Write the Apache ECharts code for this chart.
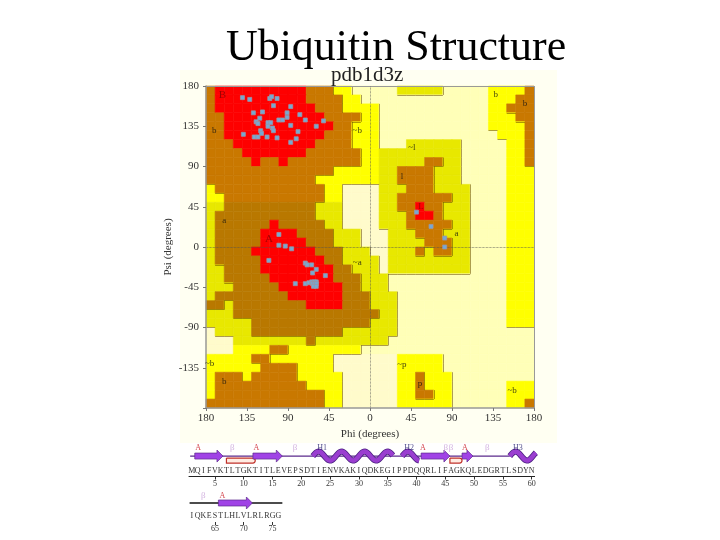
<!DOCTYPE html>
<html lang="en">
<head>
    <meta charset="utf-8">
    <title>Ubiquitin Structure</title>
    <script src="https://cdn.jsdelivr.net/npm/echarts@6/dist/echarts.min.js"></script>
    <style>
        html, body { margin: 0; padding: 0; background: #fff; }
    </style>
</head>
<body>
    <div id="main" style="width: 720px;height:540px;"></div>
<script type="text/javascript">
    // Ramachandran regions, 10 degree cells, top row is psi 170..180, run length coded
    var cellRows = [
        'b1 r10 b3 y2 p5 Y5 p5 y4 b1',
        'b1 r10 b4 y2 p14 y3 b2',
        'b1 r11 b3 y4 p12 y2 b3',
        'b2 r11 b4 y2 p12 y3 b2',
        'b2 r12 b2 y3 p12 y4 b1',
        'b2 r11 b3 y3 p13 y3 b1',
        'b3 r9 b4 y3 p3 Y6 p5 y2 b1',
        'b4 r7 b6 y2 Y9 p5 y2 b1',
        'b5 r1 b2 r1 b8 y2 Y5 b2 Y2 p5 y2 b1',
        'b14 y5 Y2 b4 Y3 p5 y3',
        'b12 y7 Y2 b4 Y3 p5 y3',
        'y1 b12 y2 q4 Y3 b3 Y4 p4 y3',
        'y2 b11 y2 q4 Y2 b6 Y2 p4 y3',
        'Y2 d10 Y3 q4 Y2 b2 r1 b2 Y3 p4 y3',
        'Y1 d11 Y3 q4 Y3 b1 r2 b1 Y3 p4 y3',
        'Y1 d6 r1 d5 Y2 q4 Y3 b5 Y2 p4 y3',
        'Y1 d5 r4 d4 Y3 q3 Y3 b3 Y3 p4 y3',
        'Y1 d5 r5 d3 Y3 q3 Y4 b3 Y2 p4 y3',
        'Y1 d4 r7 d3 Y3 q2 Y3 b1 Y1 b2 Y2 p4 y3',
        'Y1 d5 r7 d2 Y4 q1 Y9 p4 y3',
        'Y2 d4 r8 d2 Y3 q1 Y9 p4 y3',
        'Y2 d5 r7 d3 Y3 p13 y3',
        'Y3 d5 r7 d2 Y3 p13 y3',
        'Y1 d8 r6 d3 Y3 p12 y3',
        'd2 Y1 d8 r4 d3 Y3 p12 y3',
        'Y3 d16 Y2 p12 y3',
        'Y5 d13 Y3 p12 y3',
        'q1 Y4 d10 Y6 p15',
        'q3 Y8 d1 Y8 p16',
        'q3 y4 b2 y8 p19',
        'y5 b2 y7 q7 y5 p10',
        'y6 b4 y4 q7 y5 p10',
        'y1 b3 y1 b5 y5 q6 y2 b1 y3 p9',
        'y1 b10 y4 q6 y2 b1 y3 p6 y3',
        'y1 b12 y2 q6 y2 b2 y2 p6 y3',
        'b13 y2 q6 y6 p6 y2 b1'
    ];
    var cellCodes = ['r', 'b', 'd', 'y', 'Y', 'p', 'q'];
    var cellColors = ['#fe0000', '#c97800', '#b97800', '#ffff00', '#e8e800', '#ffffb8', '#fffbcb'];
    var cellRanks = [3, 2, 2, 1, 1, 0, 0];

    // residues on the plot
    var phiValues = [-140, -132, -110, -108, -102, -106, -87, -128, -118, -91, -77, -121, -91, -100, -96, -71, -51, -125, -123, -112, -109, -87, -112, -107, -106, -59, -120, -119, -139, -79, -127, -123, -113, -102, -81, -87,
        -100, -100, -93, -86, -111, -71, -69, -64, -59, -63, -49, -82, -71, -67, -64, -61, -59, -63, -61, -59, -62, -59,
        51, 67, 82, 82];
    var psiValues = [167, 165, 166, 168, 166, 158, 157, 150, 151, 150, 148, 144, 145, 142, 142, 142, 141, 140, 138, 139, 139, 136, 135, 133, 130, 135, 130, 127, 126, 129, 123, 123, 123, 122, 121, 117,
        14, 2, 1, -2, -15, -18, -20, -20, -25, -29, -32, -41, -41, -40, -39, -39, -39, -41, -41, -41, -44, -44,
        39, 23, 10, 0];

    // region letters
    var regionNames = ['B', 'b', 'a', 'A', 'b', 'b', '~b', '~l', 'l', 'L', 'a', '~a', '~b', 'b', '~p', 'p', '~b'];
    var regionPhi = [-162, -171, -160, -111, 138, 170, -14, 46, 35, 56, 95, -14, -176, -160, 35, 55, 156];
    var regionPsi = [170, 130, 29, 9, 170, 160, 130, 111, 79, 45, 15, -17, -130, -151, -132, -153, -161];

    var phiTickLabels = ['180', '135', '90', '45', '0', '45', '90', '135', '180'];
    var psiTickLabels = ['-135', '-90', '-45', '0', '45', '90', '135', '180'];

    // sequence strip
    var sequenceOne = 'MQIFVKTLTGKTITLEVEPSDTIENVKAKIQDKEGIPPDQQRLIFAGKQLEDGRTLSDYN';
    var sequenceTwo = 'IQKESTLHLVLRLRGG';

    var rowOneStart = [0.7, 7, 22, 37.5, 56.2, 1.5, 11.6, 40.8, 47.9, 45.8];
    var rowOneEnd = [56.2, 12, 36, 40.5, 60.8, 6.4, 16.7, 45.8, 49.8, 47.9];
    var rowOneType = ['coil', 'hairpin', 'helix', 'helix', 'helix', 'strand', 'strand', 'strand', 'strand', 'hairpin'];
    var rowTwoStart = [60.6, 65.6];
    var rowTwoEnd = [76.7, 71.5];
    var rowTwoType = ['coil', 'strand'];

    var rowOneNames = ['A', '\u03b2', 'A', '\u03b2', 'H1', 'H2', 'A', '\u03b2', '\u03b2', 'A', '\u03b2', 'H3'];
    var rowOneNameAt = [2.1, 8, 12.2, 18.9, 23.6, 38.7, 41.1, 45.1, 46, 48.4, 52.3, 57.6];
    var rowTwoNames = ['\u03b2', 'A'];
    var rowTwoNameAt = [63, 66.3];

    var serif = '"Liberation Serif", serif';

    function unpackRow(row) {
        var out = [];
        row.split(' ').forEach(function (run) {
            var idx = cellCodes.indexOf(run.charAt(0));
            var n = parseInt(run.slice(1), 10);
            for (var i = 0; i < n; i++) out.push(idx);
        });
        return out;
    }

    var cells = cellRows.map(unpackRow);

    function hasRim(rankA, rankB) {
        // no rim around the red core
        return rankA < 3 && rankB < rankA;
    }

    var cellData = [];
    var edgeData = [];
    for (var j = 0; j < cells.length; j++) {
        for (var i = 0; i < cells[j].length; i++) {
            var left = -180 + i * 10;
            var bottom = 170 - j * 10;
            cellData.push([left, bottom, cells[j][i]]);
            var rank = cellRanks[cells[j][i]];
            // the original has a dark rim on the right and lower side of the darker region
            if (i < 35 && hasRim(rank, cellRanks[cells[j][i + 1]])) {
                edgeData.push({ coords: [[left + 10, bottom], [left + 10, bottom + 10]] });
            }
            if (j < 35 && hasRim(rank, cellRanks[cells[j + 1][i]])) {
                edgeData.push({ coords: [[left, bottom], [left + 10, bottom]] });
            }
        }
    }

    function cellItem(params, api) {
        var a = api.coord([api.value(0), api.value(1) + 10]);
        var b = api.coord([api.value(0) + 10, api.value(1)]);
        var color = cellColors[api.value(2)];
        return {
            type: 'rect',
            shape: { x: a[0], y: a[1], width: b[0] - a[0], height: b[1] - a[1] },
            // same colour stroke closes the seams between cells
            style: { fill: color, stroke: color, lineWidth: 0.6 }
        };
    }

    // draws one piece of secondary structure, y is the value of the strip's centre line
    function structureItem(stripY, coilColor, coilWidth) {
        return function (params, api) {
            var a = api.coord([api.value(0), stripY]);
            var b = api.coord([api.value(1), stripY]);
            var type = rowTypeName(params.seriesName, api.value(2));
            var x0 = a[0], x1 = b[0], y = a[1];
            if (type === 'coil') {
                return {
                    type: 'line', shape: { x1: x0, y1: y, x2: x1, y2: y },
                    style: { stroke: coilColor, lineWidth: coilWidth }
                };
            }
            if (type === 'strand') {
                return {
                    type: 'polygon',
                    shape: { points: [[x0, y - 3], [x1 - 6, y - 3], [x1 - 6, y - 6], [x1, y], [x1 - 6, y + 6], [x1 - 6, y + 3], [x0, y + 3]] },
                    style: { fill: '#a043e6', stroke: '#5b2a8c', lineWidth: 0.7 }
                };
            }
            if (type === 'hairpin') {
                return {
                    type: 'rect', shape: { x: x0, y: y + 2, width: x1 - x0, height: 5, r: [0, 3, 3, 0] },
                    style: { fill: '#ffece2', stroke: '#c0302a', lineWidth: 1.2 }
                };
            }
            var pts = [];
            for (var x = x0; x <= x1; x += 1) {
                pts.push([x, y - 4.5 * Math.sin((x - x0) * 2 * Math.PI / 23)]);
            }
            return {
                type: 'group',
                children: [
                    { type: 'polyline', shape: { points: pts }, style: { fill: null, stroke: '#4b2080', lineWidth: 6 } },
                    { type: 'polyline', shape: { points: pts }, style: { fill: null, stroke: '#9a3ed0', lineWidth: 4.4 } }
                ]
            };
        };
    }

    function rowTypeName(name, idx) {
        return name === 'rowOne' ? rowOneType[idx] : rowTwoType[idx];
    }

    function rowData(starts, ends) {
        return starts.map(function (s, i) { return [s, ends[i], i]; });
    }

    function nameData(at, names) {
        return at.map(function (x, i) { return [x, 0, names[i]]; });
    }

    function numberLabels(first, count) {
        var out = [];
        for (var i = 0; i < count; i++) out.push(String(first + i));
        return out;
    }

    function stripAxes(gridIndex, seq, first, withLine) {
        var letters = {
            type: 'category', gridIndex: gridIndex, data: seq.split(''), position: 'bottom',
            axisLine: { show: withLine, onZero: false, lineStyle: { color: '#222', width: 1 } },
            axisTick: { show: false },
            axisLabel: { inside: true, interval: 0, margin: 2, fontFamily: serif, fontSize: 8, color: '#333' }
        };
        var every5 = function (i) { return (i + first) % 5 === 0; };
        var numbers = {
            type: 'category', gridIndex: gridIndex, data: numberLabels(first, seq.length), position: 'bottom',
            axisLine: { show: false, onZero: false },
            axisTick: { show: true, interval: every5, alignWithLabel: true, length: 3, lineStyle: { color: '#333' } },
            axisLabel: { interval: every5, margin: 3, fontFamily: serif, fontSize: 8, color: '#333' }
        };
        var value = {
            type: 'value', gridIndex: gridIndex, show: false, splitLine: { show: false },
            min: first - 0.5, max: first + seq.length - 0.5
        };
        return [letters, numbers, value];
    }

    var myChart = echarts.init(document.getElementById('main'));

    var option = {
        animation: false,
        backgroundColor: '#fff',
        title: [
            { text: 'Ubiquitin Structure', left: 221, top: 21, textStyle: { fontFamily: serif, fontSize: 43.9, fontWeight: 'normal', color: '#000' } },
            { text: 'pdb1d3z', left: 326, top: 60, textStyle: { fontFamily: serif, fontSize: 21, fontWeight: 'normal', color: '#222' } }
        ],
        graphic: [{
            type: 'rect', z: -10, silent: true,
            shape: { x: 180, y: 70, width: 377, height: 373 },
            style: { fill: '#fffff2' }
        }],
        grid: [
            { left: 206, top: 86, width: 328, height: 322 },
            { left: 189, top: 440, width: 345.6, height: 36.5 },
            { left: 189, top: 482, width: 92.2, height: 40 }
        ],
        xAxis: [
            {
                type: 'value', gridIndex: 0, min: -180, max: 180, interval: 45, position: 'bottom', z: 4,
                name: 'Phi (degrees)', nameLocation: 'middle', nameGap: 21,
                nameTextStyle: { fontFamily: serif, fontSize: 11, color: '#333' },
                axisLine: { onZero: false, lineStyle: { color: '#999', width: 1.5 } },
                axisTick: { length: 3, lineStyle: { color: '#777' } },
                splitLine: { show: false },
                axisLabel: {
                    margin: 5, fontFamily: serif, fontSize: 11, color: '#333',
                    formatter: function (v) { return phiTickLabels[(v + 180) / 45]; }
                }
            }
        ].concat(stripAxes(1, sequenceOne, 1, true), stripAxes(2, sequenceTwo, 61, false)),
        yAxis: [
            {
                type: 'value', gridIndex: 0, min: -180, max: 180, interval: 45, position: 'left', z: 4,
                name: 'Psi (degrees)', nameLocation: 'middle', nameGap: 32,
                nameTextStyle: { fontFamily: serif, fontSize: 11, color: '#333' },
                axisLine: { onZero: false, lineStyle: { color: '#999', width: 1.5 } },
                axisTick: { length: 3, lineStyle: { color: '#777' } },
                splitLine: { show: false },
                axisLabel: {
                    margin: 7, fontFamily: serif, fontSize: 11, color: '#333',
                    formatter: function (v) { return v === -180 ? '' : psiTickLabels[(v + 135) / 45]; }
                }
            },
            { type: 'value', gridIndex: 1, show: false, min: 0, max: 1, splitLine: { show: false } },
            { type: 'value', gridIndex: 2, show: false, min: 0, max: 1, splitLine: { show: false } }
        ],
        series: [
            {
                type: 'custom', xAxisIndex: 0, yAxisIndex: 0, silent: true,
                data: cellData, renderItem: cellItem
            },
            {
                type: 'lines', coordinateSystem: 'cartesian2d', xAxisIndex: 0, yAxisIndex: 0,
                data: edgeData, silent: true, z: 3,
                lineStyle: { color: '#6a4c00', width: 1, opacity: 0.55 }
            },
            {
                // frame on the two sides the axes do not cover
                type: 'lines', coordinateSystem: 'cartesian2d', xAxisIndex: 0, yAxisIndex: 0, silent: true, z: 3,
                data: [{ coords: [[-180, 180], [180, 180]] }, { coords: [[180, -180], [180, 180]] }],
                lineStyle: { color: '#999', width: 1, opacity: 1 }
            },
            {
                type: 'lines', coordinateSystem: 'cartesian2d', xAxisIndex: 0, yAxisIndex: 0, silent: true, z: 3,
                data: [{ coords: [[0, -180], [0, 180]] }, { coords: [[-180, 0], [180, 0]] }],
                lineStyle: { color: '#555', width: 0.7, type: 'dotted', opacity: 1 }
            },
            {
                type: 'scatter', xAxisIndex: 0, yAxisIndex: 0, z: 5, symbol: 'rect', symbolSize: 4, silent: true,
                data: phiValues.map(function (p, i) { return [p, psiValues[i]]; }),
                itemStyle: { color: '#75a9d4', borderColor: '#9a95a5', borderWidth: 0.8, opacity: 1 }
            },
            {
                type: 'scatter', xAxisIndex: 0, yAxisIndex: 0, z: 6, symbolSize: 0, silent: true,
                data: regionPhi.map(function (p, i) {
                    var name = regionNames[i];
                    return {
                        value: [p, regionPsi[i], name],
                        label: {
                            show: true, position: 'inside', formatter: name, fontFamily: serif,
                            fontSize: name === 'A' || name === 'B' ? 11 : 9,
                            color: name === 'A' || name === 'B' || name === 'L' ? '#8a0000' : '#111'
                        }
                    };
                })
            },
            {
                name: 'rowOne', type: 'custom', xAxisIndex: 3, yAxisIndex: 1, silent: true, clip: false,
                data: rowData(rowOneStart, rowOneEnd),
                renderItem: structureItem(0.56, '#5b2a8c', 1.2)
            },
            {
                type: 'scatter', xAxisIndex: 3, yAxisIndex: 1, symbolSize: 0, silent: true,
                data: nameData(rowOneNameAt, rowOneNames).map(function (d) { d[1] = 0.78; return d; }),
                label: {
                    show: true, position: 'inside', fontFamily: serif, fontSize: 8,
                    formatter: function (p) { return '{' + (p.value[2] === 'A' ? 'a' : p.value[2] === '\u03b2' ? 'b' : 'h') + '|' + p.value[2] + '}'; },
                    rich: { a: { color: '#c8141e', fontSize: 8 }, b: { color: '#c8a0d8', fontSize: 9 }, h: { color: '#26206e', fontSize: 8 } }
                }
            },
            {
                name: 'rowTwo', type: 'custom', xAxisIndex: 6, yAxisIndex: 2, silent: true, clip: false,
                data: rowData(rowTwoStart, rowTwoEnd),
                renderItem: structureItem(0.475, '#111', 1.5)
            },
            {
                type: 'scatter', xAxisIndex: 6, yAxisIndex: 2, symbolSize: 0, silent: true,
                data: nameData(rowTwoNameAt, rowTwoNames).map(function (d) { d[1] = 0.65; return d; }),
                label: {
                    show: true, position: 'inside', fontFamily: serif, fontSize: 8,
                    formatter: function (p) { return '{' + (p.value[2] === 'A' ? 'a' : 'b') + '|' + p.value[2] + '}'; },
                    rich: { a: { color: '#c8141e', fontSize: 8 }, b: { color: '#c8a0d8', fontSize: 9 } }
                }
            }
        ]
    };

    myChart.setOption(option);
</script>
</body>
</html>
